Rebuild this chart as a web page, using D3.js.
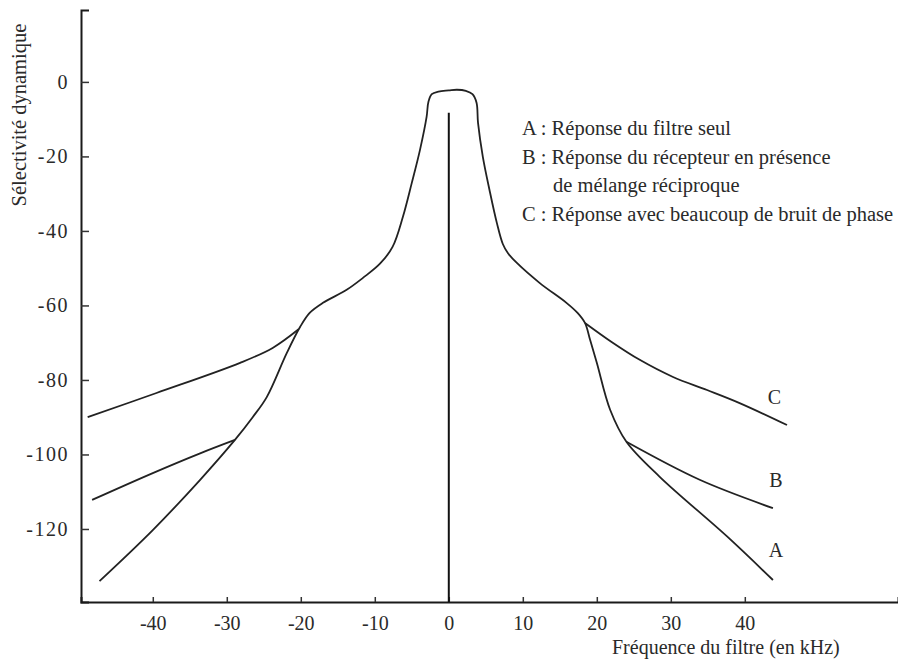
<!DOCTYPE html>
<html>
<head>
<meta charset="utf-8">
<script src="https://cdn.jsdelivr.net/npm/d3@7"></script>
<style>
  body { margin: 0; background: #fff; }
</style>
</head>
<body>
<div id="chart"></div>
<script>
// curve A : filter alone (kHz, dB)
var curveA = [
  [-47.2, -134], [-40, -120.3], [-33.6, -106.8], [-28.9, -96.1], [-26.5, -90],
  [-24.6, -84.6], [-21.9, -72.8], [-20.1, -65.8], [-18.8, -62], [-17, -59.3],
  [-13.8, -55.8], [-11.6, -52.6], [-9.3, -48.8], [-7.6, -44.3], [-6.2, -36.2],
  [-5, -27.1], [-3.9, -18.3], [-3, -9.4], [-2.75, -5.3], [-2.3, -3.3],
  [-1.4, -2.6], [0, -2.3], [1.1, -2.1], [2.3, -2.4], [3.2, -3.3], [3.75, -5.6],
  [3.95, -11], [4.6, -20.1], [5.5, -29], [6.5, -37.9], [7.3, -43.5], [8, -46],
  [9.2, -48.6], [12.3, -54], [15.9, -59.3], [17.4, -62], [18.4, -64.7],
  [19.1, -69.3], [20, -75.4], [21.8, -88], [24, -96.6], [28.5, -106],
  [37.6, -122], [43.8, -133.7]
];

// curve B : reciprocal mixing, two branches leaving A
var curveBLeft = [[-48.2, -112.2], [-40, -105], [-33.6, -99.7], [-28.9, -96.1]];
var curveBRight = [[24, -96.6], [33.9, -106.8], [43.8, -114.4]];

// curve C : lots of phase noise
var curveCLeft = [[-48.8, -90], [-39.5, -83.5], [-28.2, -75.4], [-23.8, -71.4], [-20.3, -66.4]];
var curveCRight = [[18.4, -64.7], [22, -69.8], [25.8, -74.6], [30.3, -79.2], [34.9, -82.7], [39.3, -86.2], [45.7, -92.1]];

// vertical marker at 0 kHz
var zeroLine = [[0, -8.3], [0, -139.6]];

var xTicks = [-40, -30, -20, -10, 0, 10, 20, 30, 40];
var yTicks = [0, -20, -40, -60, -80, -100, -120];

var curveLabels = [
  { text: "C", x: 44, y: -86.5 },
  { text: "B", x: 44.2, y: -108.7 },
  { text: "A", x: 44.2, y: -127.5 }
];

var legendLines = [
  "A : Réponse du filtre seul",
  "B : Réponse du récepteur en présence",
  "de mélange réciproque",
  "C : Réponse avec beaucoup de bruit de phase"
];

var serif = '"Liberation Serif", "Times New Roman", Times, serif';
var width = 898;
var height = 661;

var svg = d3
  .select("#chart")
  .append("svg")
  .attr("width", width)
  .attr("height", height)
  .style("font-family", serif);

var x = d3.scaleLinear().domain([-49.7, 60.7]).range([81, 898]);
var y = d3.scaleLinear().domain([19.3, -139.6]).range([10, 602]);

var line = d3
  .line()
  .x(function (d) { return x(d[0]); })
  .y(function (d) { return y(d[1]); })
  .curve(d3.curveCatmullRom.alpha(0.5));

// y axis, ticks pointing inside
var yAxis = svg
  .append("g")
  .attr("transform", "translate(" + x(-49.7) + ",0)")
  .call(d3.axisRight(y).tickValues(yTicks).tickSize(8).tickFormat(function (d) { return d; }));
yAxis.attr("font-family", null);
yAxis.select(".domain").attr("stroke", "#1a1a1a").attr("stroke-width", 2);
yAxis.selectAll(".tick line").attr("stroke", "#333").attr("stroke-width", 1.5);
yAxis
  .selectAll(".tick text")
  .attr("x", -12)
  .attr("text-anchor", "end")
  .attr("fill", "#2a2a2a")
  .style("font-family", serif)
  .style("font-size", "20px")
  .style("letter-spacing", "1.5px");

// x axis, ticks pointing up
var xAxis = svg
  .append("g")
  .attr("transform", "translate(0," + y(-139.6) + ")")
  .call(d3.axisTop(x).tickValues(xTicks).tickSize(5).tickFormat(function (d) { return d; }));
xAxis.attr("font-family", null);
xAxis.select(".domain").attr("stroke", "#1a1a1a").attr("stroke-width", 2);
xAxis.selectAll(".tick line").attr("stroke", "#333").attr("stroke-width", 1.5);
xAxis
  .selectAll(".tick text")
  .attr("y", 28)
  .attr("dy", 0)
  .attr("fill", "#2a2a2a")
  .style("font-family", serif)
  .style("font-size", "20px");

// curves
var allCurves = [curveA, curveBLeft, curveBRight, curveCLeft, curveCRight];
svg
  .append("g")
  .selectAll("path")
  .data(allCurves)
  .enter()
  .append("path")
  .attr("d", line)
  .attr("fill", "none")
  .attr("stroke", "#222")
  .attr("stroke-width", 1.8);

svg
  .append("path")
  .attr("d", d3.line().x(function (d) { return x(d[0]); }).y(function (d) { return y(d[1]); })(zeroLine))
  .attr("stroke", "#111")
  .attr("stroke-width", 2);

// curve letters
svg
  .append("g")
  .selectAll("text")
  .data(curveLabels)
  .enter()
  .append("text")
  .attr("x", function (d) { return x(d.x); })
  .attr("y", function (d) { return y(d.y); })
  .attr("text-anchor", "middle")
  .attr("fill", "#2a2a2a")
  .style("font-size", "20px")
  .text(function (d) { return d.text; });

// legend block
var legend = svg.append("g").attr("transform", "translate(522,135)");
legend
  .selectAll("text")
  .data(legendLines)
  .enter()
  .append("text")
  .attr("x", function (d, i) { return i == 2 ? 31 : 0; })
  .attr("y", function (d, i) { return i * 28.7; })
  .attr("fill", "#2a2a2a")
  .style("font-size", "20.5px")
  .text(function (d) { return d; });

// axis titles
svg
  .append("text")
  .attr("transform", "translate(26,115) rotate(-90)")
  .attr("text-anchor", "middle")
  .attr("fill", "#2a2a2a")
  .style("font-size", "20.5px")
  .text("Sélectivité dynamique");

svg
  .append("text")
  .attr("x", 612)
  .attr("y", 654)
  .attr("fill", "#2a2a2a")
  .style("font-size", "20px")
  .text("Fréquence du filtre (en kHz)");
</script>
</body>
</html>
